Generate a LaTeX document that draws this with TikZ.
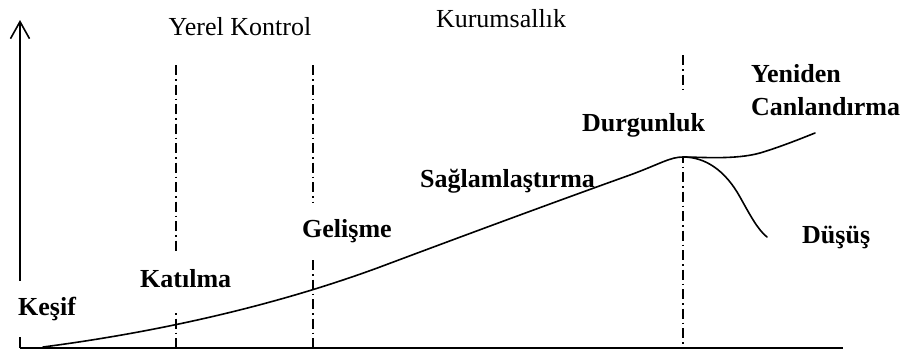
\documentclass[tikz,border=0pt]{standalone}
\usepackage{fontspec}
\setmainfont{Liberation Serif}
\usetikzlibrary{arrows.meta}

\begin{document}
\begin{tikzpicture}[x=1pt,y=-1pt]

\tikzset{
  axis/.style  = {line width=1.6pt},
  rise/.style  = {axis, -{Straight Barb[length=17pt,width=19pt,line width=1.6pt]}},
  guide/.style = {line width=1.3pt, dash pattern=on 10pt off 4pt on 1.5pt off 4pt},
  curve/.style = {line width=1.6pt, line cap=round},
  txt/.style   = {font=\fontsize{26}{33}\selectfont, inner sep=1pt},
  phase/.style = {txt, font=\fontsize{26}{33}\selectfont\bfseries, fill=white,
                  text height=17pt, text depth=5pt, minimum height=56pt},
}

\useasboundingbox (0,0) rectangle (908,354);

% stage guides
\draw[guide] (176,65) -- (176,347);
\draw[guide] (313,65) -- (313,347);
\draw[guide] (683,55) -- (683,347);

% axes
\coordinate (o) at (20,348);
\coordinate (ytop) at (20,20);
\coordinate (xend) at (843,348);
\draw[rise] (o) -- (ytop);
\draw[axis] (o) -- (xend);

% headings
\node[txt, anchor=base] (yerel) at (240,35) {Yerel Kontrol};
\node[txt, anchor=base] (kurum) at (501,27) {Kurumsallık};

% stages
\node[phase, anchor=base west] (kesif) at (17,315) {Keşif};
\node[phase, anchor=base west] (katil) at (139,287) {Katılma};
\node[phase, anchor=base west] (gelis) at (301,237) {Gelişme};
\node[phase, anchor=base west] (sagla) at (419,187) {Sağlamlaştırma};
\node[phase, anchor=base west, minimum height=64pt] (durgun) at (581,131) {Durgunluk};
\node[txt, font=\fontsize{26}{33}\selectfont\bfseries, anchor=west, align=left] (yeni) at (750,90) {Yeniden\\Canlandırma};
\node[phase, anchor=base west] (dusus) at (801,243) {Düşüş};

% life cycle
\coordinate (start) at (43,347);
\coordinate (peak) at (683,157);
\draw[curve] (start) .. controls (120,337) and (250,315) .. (380,267)
  .. controls (460,237) and (560,200) .. (630,175)
  .. controls (660,164) and (670,157) .. (peak)
  .. controls (700,157) and (735,160) .. (760,153)
  .. controls (780,147) and (800,139) .. (815,133);
\draw[curve] (peak) .. controls (705,157) and (725,170) .. (740,197)
  .. controls (750,215) and (758,230) .. (767,237);
\end{tikzpicture}
\end{document}
